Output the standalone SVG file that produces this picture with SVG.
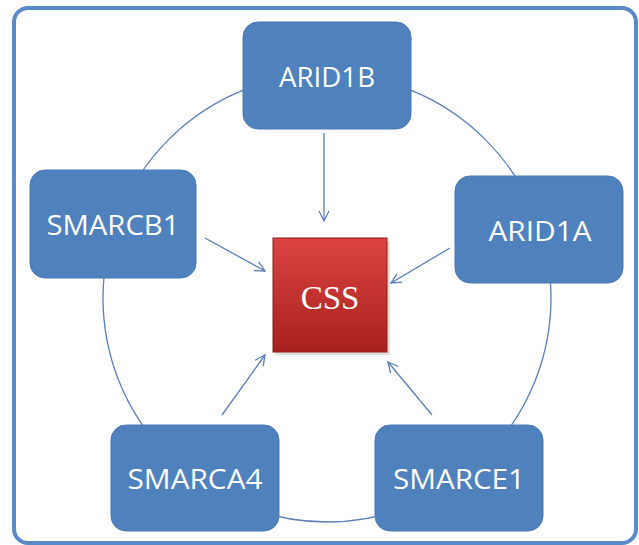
<svg xmlns="http://www.w3.org/2000/svg" width="639" height="545" viewBox="0 0 639 545">
<defs>
<style>
.node rect{fill:#4f81bd;stroke:#4a7ab3;stroke-width:1}
.node text{fill:#ffffff;font-family:"Open Sans","Liberation Sans",sans-serif;font-size:28px;text-anchor:middle;dominant-baseline:central}
.edge{stroke:#5a7fb8;stroke-width:1.3;fill:none}
</style>
<linearGradient id="red" x1="0" y1="0" x2="0" y2="1">
<stop offset="0" stop-color="#dc4442"/>
<stop offset="1" stop-color="#a8201e"/>
</linearGradient>
<marker id="arr" viewBox="0 0 12 12" refX="11" refY="6" markerWidth="12" markerHeight="12" markerUnits="userSpaceOnUse" orient="auto">
<path d="M1,1 L11,6 L1,11" fill="none" stroke="#5a7fb8" stroke-width="1.3"/>
</marker>
</defs>
<rect x="0" y="0" width="639" height="545" fill="#ffffff"/>
<rect x="14" y="8" width="622" height="535" rx="14" fill="#ffffff" stroke="#5a8bc8" stroke-width="4"/>
<g id="connectors">
<circle cx="327" cy="298" r="224" class="edge"/>
<line x1="324" y1="133" x2="324" y2="221" class="edge" marker-end="url(#arr)"/>
<line x1="205" y1="238" x2="265" y2="271" class="edge" marker-end="url(#arr)"/>
<line x1="450" y1="248" x2="391" y2="283" class="edge" marker-end="url(#arr)"/>
<line x1="222" y1="415" x2="265" y2="355" class="edge" marker-end="url(#arr)"/>
<line x1="432" y1="415" x2="388" y2="362" class="edge" marker-end="url(#arr)"/>
</g>
<g id="ARID1B" class="node"><rect x="243" y="22" width="168" height="107" rx="15"/><text x="327" y="76" textLength="96" lengthAdjust="spacingAndGlyphs">ARID1B</text></g>
<g id="SMARCB1" class="node"><rect x="30" y="170" width="166" height="108" rx="15"/><text x="113" y="224" textLength="133" lengthAdjust="spacingAndGlyphs">SMARCB1</text></g>
<g id="ARID1A" class="node"><rect x="455" y="176" width="168" height="107" rx="15"/><text x="540" y="230" textLength="103" lengthAdjust="spacingAndGlyphs">ARID1A</text></g>
<g id="SMARCA4" class="node"><rect x="111" y="425" width="168" height="106" rx="15"/><text x="195" y="478" textLength="135" lengthAdjust="spacingAndGlyphs">SMARCA4</text></g>
<g id="SMARCE1" class="node"><rect x="375" y="425" width="168" height="106" rx="15"/><text x="459" y="478" textLength="132" lengthAdjust="spacingAndGlyphs">SMARCE1</text></g>
<g id="CSS">
<rect x="276" y="241" width="114" height="114" fill="#c9c9c9" opacity="0.6"/>
<rect x="273" y="238" width="114" height="114" fill="url(#red)" stroke="#8e1b1a" stroke-width="1"/>
<text x="330" y="298" fill="#ffffff" font-family="'Liberation Serif',serif" font-size="33" text-anchor="middle" dominant-baseline="central">CSS</text>
</g>
</svg>
